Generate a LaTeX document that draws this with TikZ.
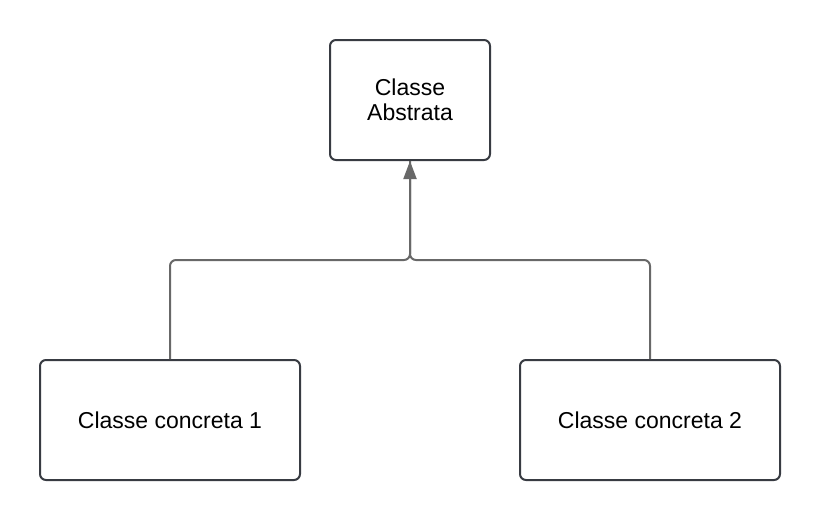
\documentclass[tikz,border=0pt]{standalone}
\usepackage{fontspec}
\setmainfont{Liberation Sans}
\usetikzlibrary{arrows.meta, positioning}
\definecolor{boxline}{HTML}{383B42}
\definecolor{linkline}{HTML}{686868}

\begin{document}
\begin{tikzpicture}[
            x=0.5pt, y=-0.5pt,
            classbox/.style={
                draw=boxline, line width=1pt, rounded corners=3pt, fill=white,
                align=center, inner sep=0pt,
                font=\fontsize{11.5}{12.5}\selectfont
            },
            link/.style={draw=linkline, line width=1pt, rounded corners=3pt}
        ]
        \useasboundingbox (0, 0) rectangle (820, 520);

        \node[classbox, minimum width=80pt, minimum height=60pt] (abstrata) at (410, 100) {Classe\\Abstrata};
        \node[classbox, minimum width=130pt, minimum height=60pt] (concreta1) at (170, 420) {Classe concreta 1};
        \node[classbox, minimum width=130pt, minimum height=60pt] (concreta2) at (650, 420) {Classe concreta 2};

        \coordinate (join) at (410, 260);
        \draw[link] (concreta2.north) |- (join) -- (abstrata.south);
        \draw[link, -{Triangle[length=9pt, width=6.5pt, fill=linkline]}] (concreta1.north) |- (join) -- (abstrata.south);
    \end{tikzpicture}
\end{document}
